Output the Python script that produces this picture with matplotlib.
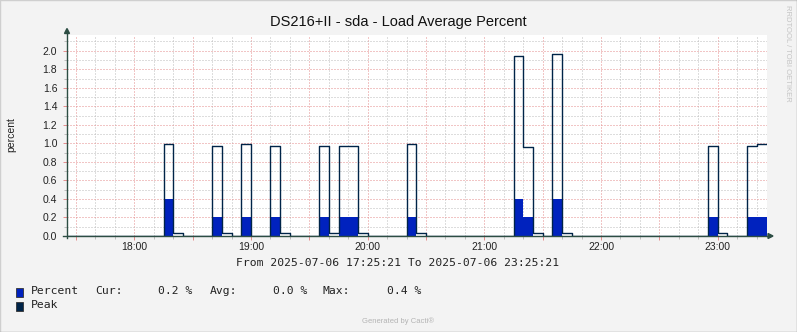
import matplotlib
matplotlib.use("Agg")
import matplotlib.pyplot as plt
import matplotlib.dates as mdates
from matplotlib.lines import Line2D
from matplotlib.patches import Polygon, Rectangle
from matplotlib.ticker import MultipleLocator, FuncFormatter
import pandas as pd

# ── data: 5-minute samples, 17:25 .. 23:20 ────────────────────────────────────
START = pd.Timestamp("2025-07-06 17:25:21")
END = pd.Timestamp("2025-07-06 23:25:21")
FIRST_SLOT = "2025-07-06 17:25"

peak = [
    0, 0, 0, 0, 0, 0, 0,                                          # 17:25-17:55
    0, 0, 0, 0.99, 0.03, 0, 0, 0, 0.97, 0.03, 0, 0.99,            # 18:00-18:55
    0, 0, 0.97, 0.03, 0, 0, 0, 0.97, 0.03, 0.97, 0.97, 0.03,      # 19:00-19:55
    0, 0, 0, 0, 0.99, 0.03, 0, 0, 0, 0, 0, 0,                     # 20:00-20:55
    0, 0, 0, 1.94, 0.96, 0.03, 0, 1.97, 0.03, 0, 0, 0,            # 21:00-21:55
    0, 0, 0, 0, 0, 0, 0, 0, 0, 0, 0, 0.97,                        # 22:00-22:55
    0.03, 0, 0, 0.97, 0.99,                                       # 23:00-23:20
]
percent = [
    0, 0, 0, 0, 0, 0, 0,
    0, 0, 0, 0.4, 0, 0, 0, 0, 0.2, 0, 0, 0.2,
    0, 0, 0.2, 0, 0, 0, 0, 0.2, 0, 0.2, 0.2, 0,
    0, 0, 0, 0, 0.2, 0, 0, 0, 0, 0, 0, 0,
    0, 0, 0, 0.4, 0.2, 0, 0, 0.4, 0, 0, 0, 0,
    0, 0, 0, 0, 0, 0, 0, 0, 0, 0, 0, 0.2,
    0, 0, 0, 0.2, 0.2,
]

TITLE = "DS216+II - sda - Load Average Percent"
Y_LABEL = "percent"
RANGE_TEXT = "From 2025-07-06 17:25:21 To 2025-07-06 23:25:21"
LEGEND_ROW = [("Percent", 30.7), ("Cur:", 95), ("0.2 %", 158.3),
              ("Avg:", 209.3), ("0.0 %", 272.7), ("Max:", 322.7),
              ("0.4 %", 386.7)]

# ── colours ──────────────────────────────────────────────────────────────────
BACK = "#F3F3F3"
AREA = "#0022BE"
PEAK = "#002448"
AXIS = "#2C4D43"
GRID = "#BDBDBD"
MGRID = "#E58C8C"
TEXT = "#222222"
MONO = "DejaVu Sans Mono"
SANS = "Liberation Sans"

W, H = 797, 332
fig = plt.figure(figsize=(W / 100, H / 100), dpi=100)
fig.patch.set_facecolor(BACK)


def fx(x):
    return x / W


def fy(y):
    return 1 - y / H


# plot area in pixels: x 67..767, y 35..236
ax = fig.add_axes([fx(67), fy(236), 700 / W, 201 / H])
ax.set_facecolor("white")

times = pd.date_range(FIRST_SLOT, periods=len(peak), freq="5min")
t = list(times) + [END]
p = peak + [peak[-1]]
c = percent + [percent[-1]]

ax.fill_between(t, c, 0, step="post", color=AREA, linewidth=0, zorder=2)
ax.step(t, p, where="post", color=PEAK, linewidth=1.0, zorder=3)

ax.set_xlim(START, END)
ax.set_ylim(0, 2.17)

ax.xaxis.set_major_locator(mdates.MinuteLocator(byminute=[0, 30]))
ax.xaxis.set_minor_locator(mdates.MinuteLocator(byminute=range(0, 60, 10)))
ax.xaxis.set_major_formatter(FuncFormatter(
    lambda v, pos: mdates.num2date(v).strftime("%H:%M")
    if mdates.num2date(v).minute == 0 else ""))
ax.yaxis.set_major_locator(MultipleLocator(0.2))
ax.yaxis.set_minor_locator(MultipleLocator(0.1))
ax.yaxis.set_major_formatter(FuncFormatter(lambda v, pos: f"{v:.1f}"))

# dotted grid: 1px dot, 2px gap
dots = (0, (1, 2))
ax.grid(which="minor", color=GRID, linestyle=dots, linewidth=0.72, zorder=0)
ax.grid(which="major", color=MGRID, linestyle=dots, linewidth=0.72, zorder=1)
ax.set_axisbelow(True)

ax.tick_params(which="major", length=3, width=0.7, color=MGRID,
               labelsize=7.5, labelcolor=TEXT)
ax.tick_params(which="minor", length=2, width=0.7, color=GRID)
ax.tick_params(axis="y", pad=4)
ax.tick_params(axis="x", pad=1.5)
for lbl in ax.get_xticklabels() + ax.get_yticklabels():
    lbl.set_family(SANS)
for s in ax.spines.values():
    s.set_visible(False)

# ── axes with arrowheads ─────────────────────────────────────────────────────
fig.add_artist(Line2D([fx(67), fx(67)], [fy(238), fy(32)], color=AXIS,
                      linewidth=1.0, transform=fig.transFigure))
fig.add_artist(Line2D([fx(63), fx(770)], [fy(236), fy(236)], color=AXIS,
                      linewidth=1.0, transform=fig.transFigure))
fig.add_artist(Polygon([(fx(64.5), fy(33.5)), (fx(69.5), fy(33.5)),
                        (fx(67), fy(28.5))], closed=True, color=AXIS,
                       transform=fig.transFigure))
fig.add_artist(Polygon([(fx(768), fy(233.5)), (fx(768), fy(238.5)),
                        (fx(773), fy(236))], closed=True, color=AXIS,
                       transform=fig.transFigure))

# ── texts ────────────────────────────────────────────────────────────────────
fig.text(fx(398), fy(22), TITLE, ha="center", va="center", fontsize=10.5,
         family=SANS, color="#111111")
fig.text(fx(11), fy(135), Y_LABEL, ha="center", va="center", rotation=90,
         fontsize=7.5, family=SANS, color=TEXT)
fig.text(fx(787), fy(5), "RRDTOOL / TOBI OETIKER", ha="center", va="top",
         rotation=270, fontsize=5.5, family=SANS, color="#C4C4C4")
fig.text(fx(398), fy(263), RANGE_TEXT, ha="center", va="center",
         fontsize=8.2, family=MONO, color=TEXT)

for txt, x in LEGEND_ROW:
    fig.text(fx(x), fy(291.5), txt, ha="left", va="center", fontsize=8.2,
             family=MONO, color=TEXT)
fig.text(fx(30.7), fy(305), "Peak", ha="left", va="center", fontsize=8.2,
         family=MONO, color=TEXT)

for y0, col in [(287.5, AREA), (301.5, PEAK)]:
    fig.add_artist(Rectangle((fx(15.5), fy(y0 + 9)), 7.5 / W, 9 / H,
                             facecolor=col, edgecolor="#333333",
                             linewidth=0.6, transform=fig.transFigure))

fig.text(fx(398), fy(321), "Generated by Cacti®", ha="center", va="center",
         fontsize=5.5, family=SANS, color="#B4B4B4")

# image frame
fig.add_artist(Line2D([0.0005, 0.0005, 0.9995], [0.0015, 0.9985, 0.9985],
                      color="#CFCFCF", linewidth=1.0,
                      transform=fig.transFigure))
fig.add_artist(Line2D([0.0005, 0.9995, 0.9995], [0.0015, 0.0015, 0.9985],
                      color="#9E9E9E", linewidth=1.0,
                      transform=fig.transFigure))

fig.savefig("out.png", dpi=100, facecolor=BACK)
